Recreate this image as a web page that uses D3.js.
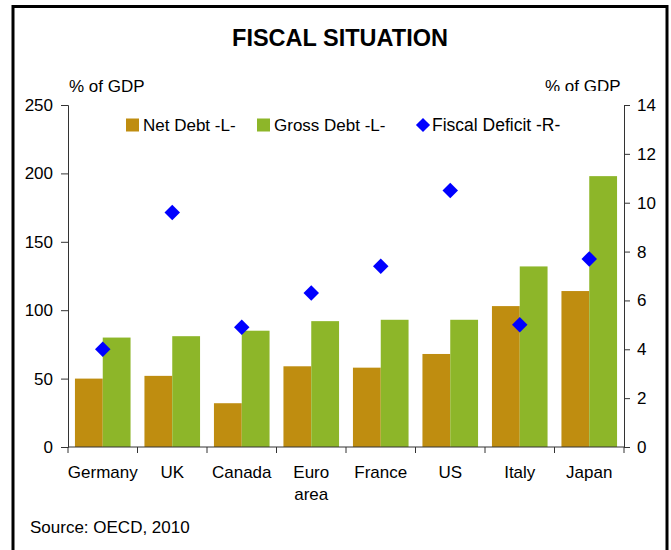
<!DOCTYPE html>
<html>
<head>
<meta charset="utf-8">
<script src="https://cdn.jsdelivr.net/npm/d3@7"></script>
<style>
  body { margin: 0; background: #fff; }
  text { font-family: "Liberation Sans", Arial, sans-serif; fill: #000; }
</style>
</head>
<body>
<div id="chart"></div>
<script>
// data
var categories = ["Germany", "UK", "Canada", "Euro area", "France", "US", "Italy", "Japan"];
var netDebt = [50, 52, 32, 59, 58, 68, 103, 114];
var grossDebt = [80, 81, 85, 92, 93, 93, 132, 198];
var fiscalDeficit = [4.0, 9.6, 4.9, 6.3, 7.4, 10.5, 5.0, 7.7];
var leftTicks = [0, 50, 100, 150, 200, 250];
var rightTicks = [0, 2, 4, 6, 8, 10, 12, 14];
var seriesNames = ["Net Debt -L-", "Gross Debt -L-", "Fiscal Deficit -R-"];

var width = 671,
  height = 550;
// plot area edges (window.top is reserved, so no "top" here)
var plotLeft = 68, plotRight = 624, plotTop = 105, plotBottom = 447;

var netColor = "#BF8D10",
  grossColor = "#8DB629",
  deficitColor = "#0000FF";

var svg = d3.select("#chart")
  .append("svg")
  .attr("width", width)
  .attr("height", height);

// frame round the whole chart
svg.append("rect")
  .attr("x", 13)
  .attr("y", 6.5)
  .attr("width", 654)
  .attr("height", 560)
  .attr("fill", "none")
  .attr("stroke", "#000")
  .attr("stroke-width", 3);

// scales
var x = d3.scaleBand()
  .domain(categories)
  .range([plotLeft, plotRight])
  .paddingInner(0.2)
  .paddingOuter(0.1);

var yLeft = d3.scaleLinear().domain([0, 250]).range([plotBottom, plotTop]);
var yRight = d3.scaleLinear().domain([0, 14]).range([plotBottom, plotTop]);

var half = x.bandwidth() / 2;

// bars
svg.selectAll(".net")
  .data(netDebt)
  .enter()
  .append("rect")
  .attr("class", "net")
  .attr("x", function(d, i) { return x(categories[i]); })
  .attr("y", function(d) { return yLeft(d); })
  .attr("width", half)
  .attr("height", function(d) { return yLeft(0) - yLeft(d); })
  .attr("fill", netColor);

svg.selectAll(".gross")
  .data(grossDebt)
  .enter()
  .append("rect")
  .attr("class", "gross")
  .attr("x", function(d, i) { return x(categories[i]) + half; })
  .attr("y", function(d) { return yLeft(d); })
  .attr("width", half)
  .attr("height", function(d) { return yLeft(0) - yLeft(d); })
  .attr("fill", grossColor);

// diamonds for the deficit
var diamond = d3.symbol().type(d3.symbolSquare).size(120);
svg.selectAll(".deficit")
  .data(fiscalDeficit)
  .enter()
  .append("path")
  .attr("class", "deficit")
  .attr("d", diamond)
  .attr("transform", function(d, i) {
    return "translate(" + (x(categories[i]) + half) + "," + yRight(d) + ") rotate(45)";
  })
  .attr("fill", deficitColor);

// left axis
var gl = svg.append("g")
  .attr("transform", "translate(" + plotLeft + ",0)")
  .call(d3.axisLeft(yLeft).tickValues(leftTicks).tickSize(7).tickPadding(8));

// right axis
var gr = svg.append("g")
  .attr("transform", "translate(" + plotRight + ",0)")
  .call(d3.axisRight(yRight).tickValues(rightTicks).tickSize(6).tickPadding(7));

[gl, gr].forEach(function(g) {
  g.select(".domain").attr("stroke", "#333");
  g.selectAll(".tick line").attr("stroke", "#333");
  g.selectAll("text")
    .style("font-family", "Liberation Sans, Arial, sans-serif")
    .style("font-size", "17px")
    .attr("fill", "#000");
});

// x axis: line plus ticks between the categories
var step = x.step();
var boundaries = categories.map(function(c) { return x(c) - step * 0.1; });
boundaries.push(plotRight);

svg.append("line")
  .attr("x1", plotLeft).attr("x2", plotRight)
  .attr("y1", plotBottom).attr("y2", plotBottom)
  .attr("stroke", "#333");

svg.selectAll(".xtick")
  .data(boundaries)
  .enter()
  .append("line")
  .attr("class", "xtick")
  .attr("x1", function(d) { return d; })
  .attr("x2", function(d) { return d; })
  .attr("y1", plotBottom)
  .attr("y2", plotBottom + 6)
  .attr("stroke", "#333");

// category labels, "Euro area" on two lines
var labels = svg.selectAll(".xlabel")
  .data(categories)
  .enter()
  .append("text")
  .attr("class", "xlabel")
  .attr("text-anchor", "middle")
  .style("font-size", "17px")
  .attr("transform", function(d) {
    return "translate(" + (x(d) + half) + "," + (plotBottom + 31) + ")";
  });

labels.each(function(d) {
  var words = d === "Euro area" ? ["Euro", "area"] : [d];
  d3.select(this).selectAll("tspan")
    .data(words)
    .enter()
    .append("tspan")
    .attr("x", 0)
    .attr("dy", function(w, i) { return i === 0 ? 0 : 21.5; })
    .text(function(w) { return w; });
});

// title
svg.append("text")
  .attr("x", 340)
  .attr("y", 46)
  .attr("text-anchor", "middle")
  .style("font-size", "23.5px")
  .style("font-weight", "bold")
  .text("FISCAL SITUATION");

// axis units
svg.append("text")
  .attr("x", 69)
  .attr("y", 92)
  .style("font-size", "17px")
  .text("% of GDP");

svg.append("clipPath")
  .attr("id", "unitclip")
  .append("rect")
  .attr("x", 500).attr("y", 60)
  .attr("width", 160).attr("height", 31);

svg.append("text")
  .attr("x", 545)
  .attr("y", 92)
  .attr("clip-path", "url(#unitclip)")
  .style("font-size", "17px")
  .text("% of GDP");

// legend
var legendX = [126, 257, 416];
var legend = svg.selectAll(".legend")
  .data(seriesNames)
  .enter()
  .append("g")
  .attr("class", "legend")
  .attr("transform", function(d, i) { return "translate(" + legendX[i] + ",125)"; });

legend.each(function(d, i) {
  var g = d3.select(this);
  if (i < 2) {
    g.append("rect")
      .attr("x", 0).attr("y", -6.5)
      .attr("width", 13).attr("height", 13)
      .attr("fill", i === 0 ? netColor : grossColor);
  } else {
    g.append("path")
      .attr("d", d3.symbol().type(d3.symbolSquare).size(100))
      .attr("transform", "translate(7,0) rotate(45)")
      .attr("fill", deficitColor);
  }
  g.append("text")
    .attr("x", i < 2 ? 17 : 16)
    .attr("y", 6)
    .style("font-size", i < 2 ? "17px" : "17.5px")
    .text(d);
});

// source
svg.append("text")
  .attr("x", 30)
  .attr("y", 533)
  .style("font-size", "17px")
  .text("Source: OECD, 2010");
</script>
</body>
</html>
